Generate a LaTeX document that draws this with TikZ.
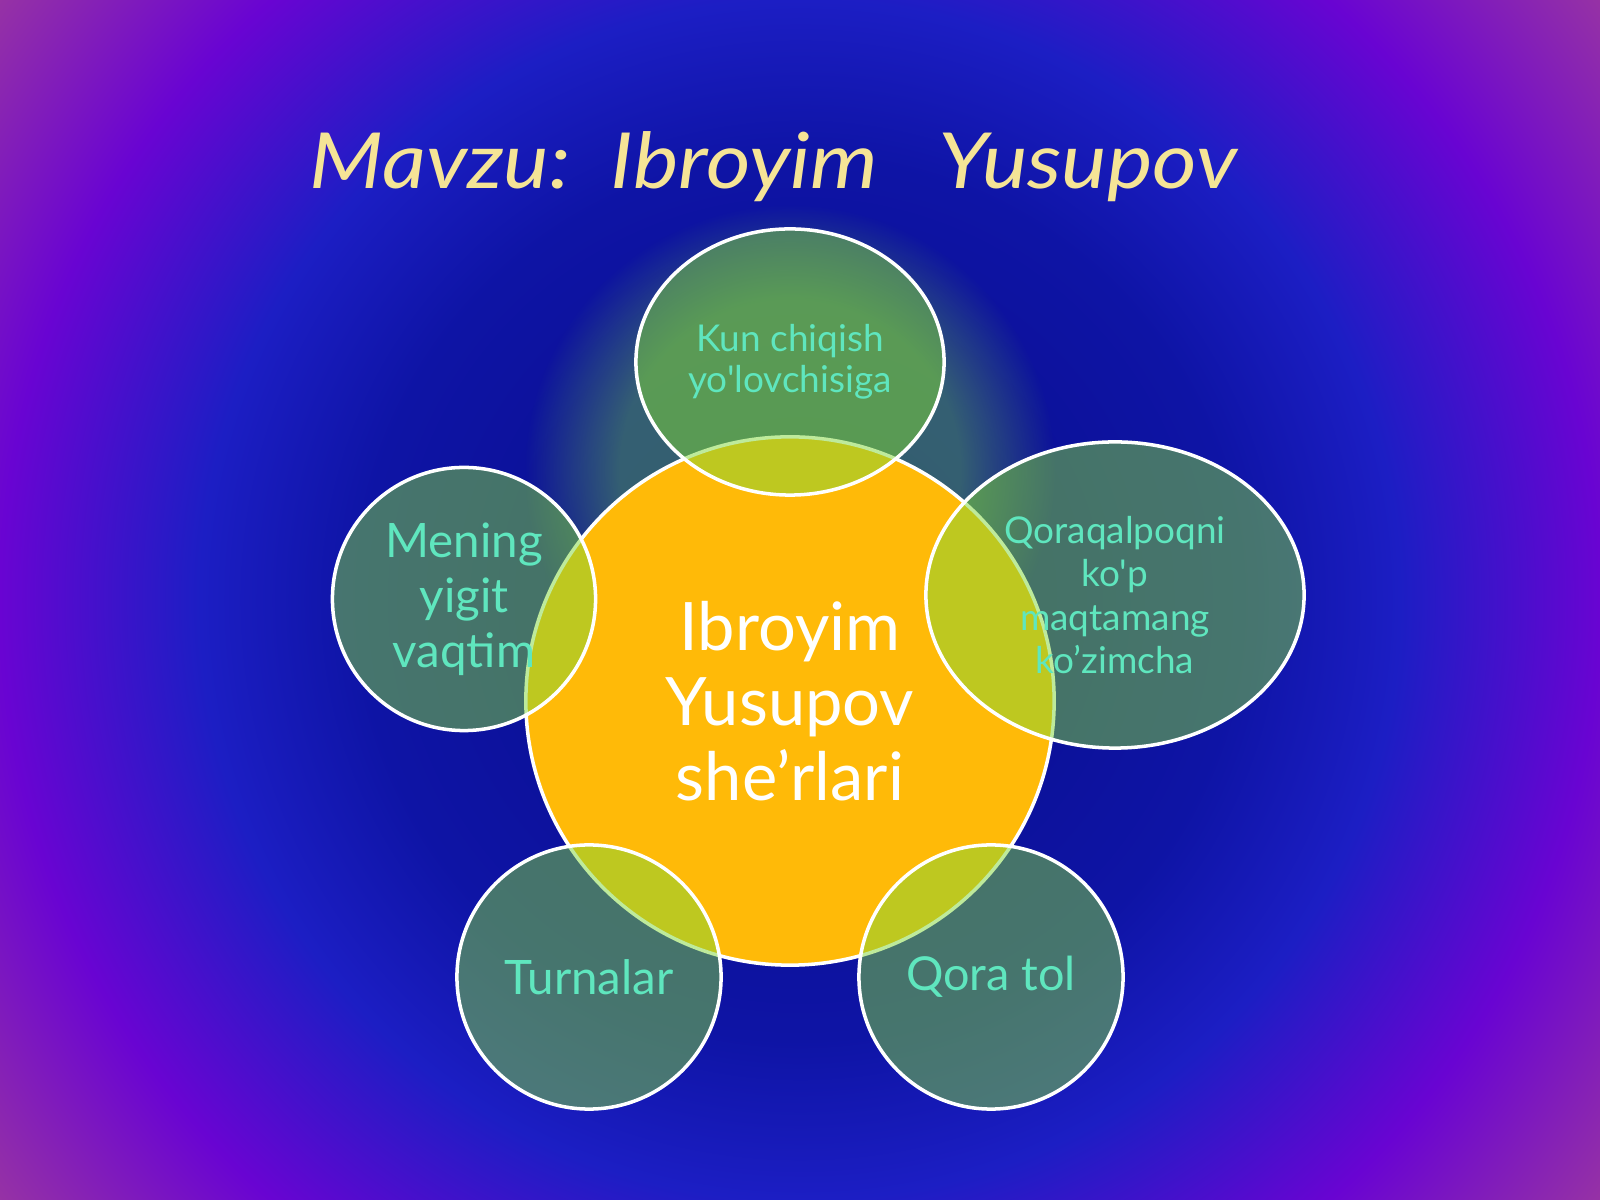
\documentclass[tikz,border=0pt]{standalone}
\usepackage{fontspec}
\setmainfont{Lato}[Ligatures=TeXOff]
\usetikzlibrary{shapes.geometric,fadings}
\definecolor{bgInnerColor}{RGB}{8,12,135}
\definecolor{bgDeepColor}{RGB}{14,20,165}
\definecolor{bgMidColor}{RGB}{28,30,196}
\definecolor{bgOuterColor}{RGB}{105,4,210}
\definecolor{bgCornerColor}{RGB}{150,50,165}
\definecolor{glowColor}{RGB}{110,205,65}
\definecolor{hubColor}{RGB}{255,186,8}
\definecolor{petalColor}{RGB}{127,214,56}
\definecolor{petalTextColor}{RGB}{95,230,190}
\definecolor{titleColor}{RGB}{245,228,150}
% shading: the inner 25bp covers the path
\pgfdeclareradialshading{backShade}{\pgfpointorigin}{color(0bp)=(bgInnerColor); color(11bp)=(bgDeepColor); color(15bp)=(bgMidColor); color(20bp)=(bgOuterColor); color(25bp)=(bgCornerColor); color(50bp)=(bgCornerColor)}
\pgfdeclareradialshading{glowFadeShade}{\pgfpointorigin}{color(0bp)=(white!42!black); color(16bp)=(white!42!black); color(25bp)=(black); color(50bp)=(black)}
\pgfdeclarefading{glowFade}{\pgfuseshading{glowFadeShade}}
\tikzset{petal/.style={ellipse, draw=white, line width=1pt, fill=petalColor, fill opacity=0.5, text opacity=1, text=petalTextColor, align=center, inner sep=0pt}}
\tikzset{hub/.style={circle, draw=white, line width=1pt, fill=hubColor, text=white, align=center, inner sep=0pt, minimum size=5.28cm}}
\tikzstyle{title} = [text=titleColor, font=\fontsize{22}{26}\selectfont\itshape, anchor=base west, inner sep=0pt]

\begin{document}
\begin{tikzpicture}[x=0.01cm, y=0.01cm]
	\useasboundingbox (0,0) rectangle (1600,1200);
	% Background
	\begin{scope}
		\clip (0,0) rectangle (1600,1200);
		\shade[shading=backShade] (800,600) circle (1000);
	\end{scope}
	\coordinate (hubCentre) at (790,499);
	\coordinate (glowCentre) at (790,730);
	\fill[glowColor, path fading=glowFade] (glowCentre) circle (265);

	% Nodes
	\node (title) [title] at (309,1011) {\scalebox{1.11}[1]{Mavzu:\ \ Ibroyim\ \ \ Yusupov}};

	\node (hub) [hub, font=\fontsize{19}{21.3}\selectfont] at (hubCentre) {Ibroyim\\Yusupov\\she’rlari};

	\node (kun) [petal, minimum width=3.08cm, minimum height=2.66cm, font=\fontsize{10.5}{11.7}\selectfont] at (790,838) {Kun chiqish\\yo'lovchisiga};
	\node (qoraqalpoq) [petal, minimum width=3.78cm, minimum height=3.06cm, font=\fontsize{10.5}{12.3}\selectfont] at (1115,605) {Qoraqalpoqni\\ko'p\\maqtamang\\ko’zimcha};
	\node (mening) [petal, minimum width=2.63cm, minimum height=2.63cm, font=\fontsize{13.5}{15.6}\selectfont] at (464,601) {Mening\\yigit\\vaqtim};
	\node (turnalar) [petal, minimum width=2.64cm, minimum height=2.64cm, font=\fontsize{13.5}{15.6}\selectfont] at (589,223) {Turnalar};
	\node (qoratol) [petal, minimum width=2.64cm, minimum height=2.64cm, font=\fontsize{13.3}{15.6}\selectfont] at (991,223) {Qora tol};
\end{tikzpicture}
\end{document}
